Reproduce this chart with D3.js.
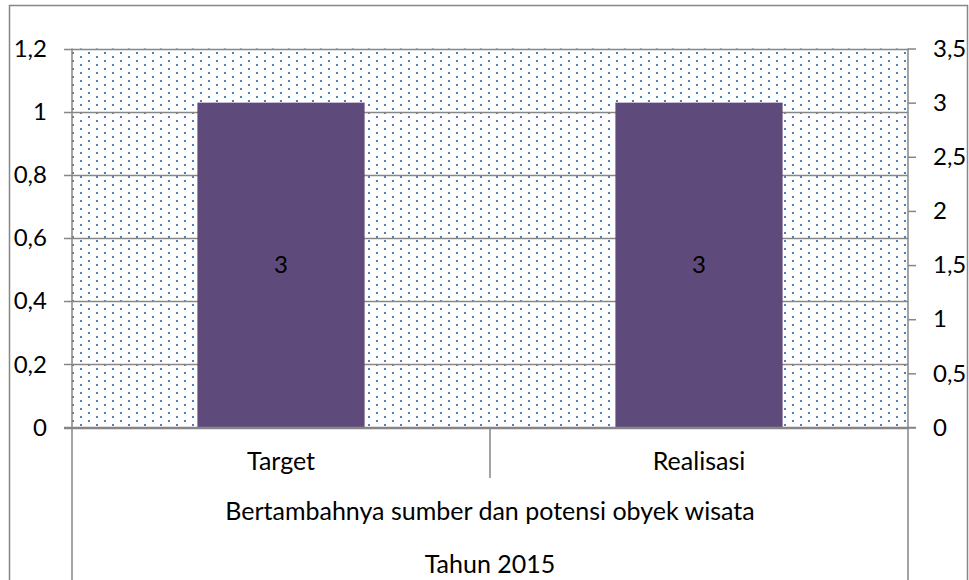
<!DOCTYPE html>
<html>
<head>
<meta charset="utf-8">
<script src="https://cdn.jsdelivr.net/npm/d3@7"></script>
<style>
  body { margin: 0; background: #fff; }
  text { font-family: Lato, "Open Sans", sans-serif; fill: #000; }
</style>
</head>
<body>
<div id="chart"></div>
<script>
// Bar chart - Target vs Realisasi, secondary axis

const categories = ["Target", "Realisasi"];
const values = [3, 3];
const leftTicks = [0, 0.2, 0.4, 0.6, 0.8, 1, 1.2];
const rightTicks = [0, 0.5, 1, 1.5, 2, 2.5, 3, 3.5];
const groupLabel = "Bertambahnya sumber dan potensi obyek wisata";
const yearLabel = "Tahun 2015";

const W = 969, H = 580;
const plot = { left: 72, right: 908, top: 48.5, bottom: 427.5 };
const gridColor = "#868686";

const locale = d3.formatLocale({ decimal: ",", thousands: ".", grouping: [3], currency: ["", ""] });
const fmt = locale.format("~g");

const svg = d3.select("#chart").append("svg")
  .attr("width", W)
  .attr("height", H);

// dotted plot-area fill
const pat = svg.append("defs").append("pattern")
  .attr("id", "dots")
  .attr("patternUnits", "userSpaceOnUse")
  .attr("x", 80).attr("y", 52)
  .attr("width", 16).attr("height", 8);
pat.append("rect").attr("x", 8).attr("y", 0).attr("width", 2).attr("height", 2).attr("fill", "#4f81bd");
pat.append("rect").attr("x", 0).attr("y", 4).attr("width", 2).attr("height", 2).attr("fill", "#4f81bd");

// outer chart frame
svg.append("rect")
  .attr("x", 9.5).attr("y", 5.5)
  .attr("width", 958).attr("height", 600)
  .attr("fill", "#fff")
  .attr("stroke", gridColor)
  .attr("stroke-width", 1.5);

svg.append("rect")
  .attr("x", plot.left).attr("y", plot.top)
  .attr("width", plot.right - plot.left)
  .attr("height", plot.bottom - plot.top)
  .attr("fill", "url(#dots)");

// Scales
const x = d3.scaleBand().domain(categories).range([plot.left, plot.right]).padding(0);
const yL = d3.scaleLinear().domain([0, 1.2]).range([plot.bottom, plot.top]);
const yR = d3.scaleLinear().domain([0, 3.5]).range([plot.bottom, plot.top]);

// gridlines (left axis)
svg.append("g")
  .selectAll("line")
  .data(leftTicks)
  .join("line")
  .attr("x1", plot.left - 8)
  .attr("x2", plot.right)
  .attr("y1", d => Math.round(yL(d)) + 0.5)
  .attr("y2", d => Math.round(yL(d)) + 0.5)
  .attr("stroke", gridColor)
  .attr("stroke-width", 1.5);

// Axis generators
const leftAxis = svg.append("g")
  .attr("transform", "translate(" + plot.left + ",0)")
  .call(d3.axisLeft(yL).tickValues(leftTicks).tickFormat(fmt).tickSize(0).tickPadding(25));

const rightAxis = svg.append("g")
  .attr("transform", "translate(" + plot.right + ",0)")
  .call(d3.axisRight(yR).tickValues(rightTicks).tickFormat(fmt).tickSize(8).tickPadding(17));

[leftAxis, rightAxis].forEach(a => {
  a.select(".domain").remove();
  a.selectAll("text").attr("font-size", "24px").attr("fill", "#000");
  a.selectAll(".tick line").attr("stroke", gridColor).attr("stroke-width", 1.5);
});

// Bars
const barW = x.bandwidth() * 0.4;
svg.append("g")
  .selectAll("rect")
  .data(categories)
  .join("rect")
  .attr("x", d => x(d) + (x.bandwidth() - barW) / 2)
  .attr("y", (d, i) => yR(values[i]))
  .attr("width", barW)
  .attr("height", (d, i) => yR(0) - yR(values[i]))
  .attr("fill", "#5f4b7b");

// data labels
svg.append("g")
  .selectAll("text")
  .data(categories)
  .join("text")
  .attr("x", d => x(d) + x.bandwidth() / 2)
  .attr("y", (d, i) => (yR(values[i]) + yR(0)) / 2)
  .attr("dy", "0.35em")
  .attr("text-anchor", "middle")
  .attr("font-size", "24px")
  .text((d, i) => fmt(values[i]));

// axis lines and category dividers
const lines = svg.append("g").attr("stroke", gridColor).attr("stroke-width", 1.5);
lines.append("line").attr("x1", plot.left).attr("x2", plot.left).attr("y1", plot.top).attr("y2", H);
lines.append("line").attr("x1", plot.right).attr("x2", plot.right).attr("y1", plot.top).attr("y2", H);
lines.append("line").attr("x1", plot.left - 8).attr("x2", plot.right + 8).attr("y1", plot.bottom).attr("y2", plot.bottom);
lines.append("line")
  .attr("x1", x(categories[1])).attr("x2", x(categories[1]))
  .attr("y1", plot.bottom).attr("y2", 478);

// category labels
svg.append("g")
  .selectAll("text")
  .data(categories)
  .join("text")
  .attr("x", d => x(d) + x.bandwidth() / 2)
  .attr("y", 470)
  .attr("text-anchor", "middle")
  .attr("font-size", "25px")
  .text(d => d);

svg.append("text")
  .attr("x", (plot.left + plot.right) / 2)
  .attr("y", 520)
  .attr("text-anchor", "middle")
  .attr("font-size", "25px")
  .text(groupLabel);

svg.append("text")
  .attr("x", (plot.left + plot.right) / 2)
  .attr("y", 573)
  .attr("text-anchor", "middle")
  .attr("font-size", "25px")
  .text(yearLabel);
</script>
</body>
</html>
